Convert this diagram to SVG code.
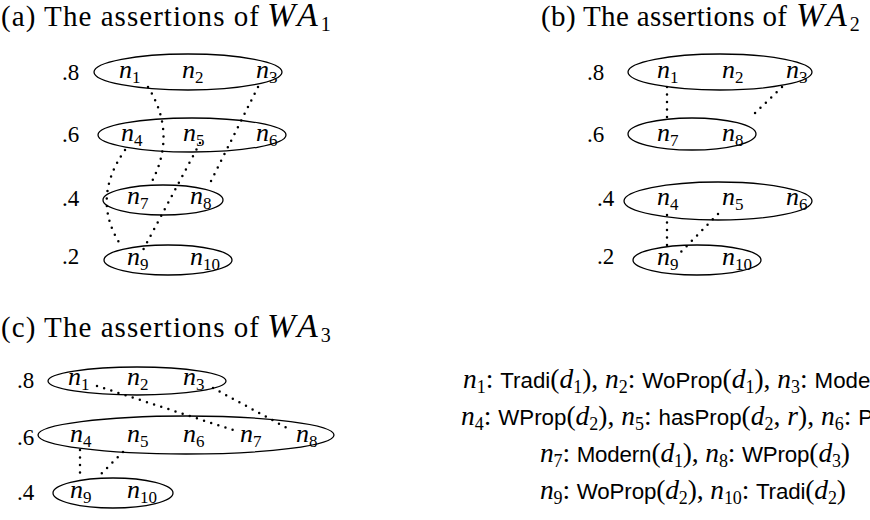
<svg xmlns="http://www.w3.org/2000/svg" width="870" height="520" viewBox="0 0 870 520">
<style>
.ttl{font-family:"Liberation Serif",serif;font-size:29px;fill:#000}
.wa{font-family:"Liberation Serif",serif;font-size:34px;font-style:italic}
.tsub{font-family:"Liberation Serif",serif;font-size:20px;font-style:normal}
.lbl{font-family:"Liberation Serif",serif;font-size:26px;font-style:italic;fill:#000}
.lv{font-family:"Liberation Serif",serif;font-size:23px;fill:#000}
.s{font-size:17px;font-style:normal}
.el{fill:none;stroke:#000;stroke-width:1.3}
.dot{fill:none;stroke:#000;stroke-width:2.5;stroke-dasharray:0 7.5;stroke-linecap:round}
.tx{font-family:"Liberation Serif",serif;font-size:27.5px;fill:#000}
.i{font-style:italic}
.ts{font-size:18px}
.sf{font-family:"Liberation Sans",sans-serif;font-size:22.3px}
</style>

<!-- Titles -->
<g id="title-a"><text class="ttl" x="1" y="26" textLength="258" lengthAdjust="spacing">(a) The assertions of</text><text class="wa" x="267" y="26">W<tspan dx="4">A</tspan><tspan class="tsub" dx="3" dy="5">1</tspan></text></g>
<g id="title-b"><text class="ttl" x="541" y="26" textLength="246" lengthAdjust="spacing">(b) The assertions of</text><text class="wa" x="796" y="26">W<tspan dx="4">A</tspan><tspan class="tsub" dx="3" dy="5">2</tspan></text></g>
<g id="title-c"><text class="ttl" x="1" y="337" textLength="258" lengthAdjust="spacing">(c) The assertions of</text><text class="wa" x="267" y="337">W<tspan dx="4">A</tspan><tspan class="tsub" dx="3" dy="5">3</tspan></text></g>

<!-- Panel (a) -->
<g id="a-l8"><text class="lv" x="62" y="80">.8</text><ellipse class="el" cx="188" cy="72" rx="94" ry="18"/>
<g id="a-n1"><text class="lbl" x="119" y="78">n<tspan class="s" dy="5">1</tspan></text></g>
<g id="a-n2"><text class="lbl" x="182" y="78">n<tspan class="s" dy="5">2</tspan></text></g>
<g id="a-n3"><text class="lbl" x="256" y="78">n<tspan class="s" dy="5">3</tspan></text></g></g>
<g id="a-l6"><text class="lv" x="62" y="142">.6</text><ellipse class="el" cx="192" cy="135" rx="94" ry="17"/>
<g id="a-n4"><text class="lbl" x="121" y="141">n<tspan class="s" dy="5">4</tspan></text></g>
<g id="a-n5"><text class="lbl" x="183" y="141">n<tspan class="s" dy="5">5</tspan></text></g>
<g id="a-n6"><text class="lbl" x="256" y="141">n<tspan class="s" dy="5">6</tspan></text></g></g>
<g id="a-l4"><text class="lv" x="62" y="206">.4</text><ellipse class="el" cx="163" cy="200" rx="60" ry="15"/>
<g id="a-n7"><text class="lbl" x="127" y="204">n<tspan class="s" dy="5">7</tspan></text></g>
<g id="a-n8"><text class="lbl" x="190" y="204">n<tspan class="s" dy="5">8</tspan></text></g></g>
<g id="a-l2"><text class="lv" x="62" y="264">.2</text><ellipse class="el" cx="168" cy="260" rx="64" ry="15"/>
<g id="a-n9"><text class="lbl" x="127" y="265">n<tspan class="s" dy="5">9</tspan></text></g>
<g id="a-n10"><text class="lbl" x="190" y="265">n<tspan class="s" dy="5">10</tspan></text></g></g>

<!-- Panel (b) -->
<g id="b-l8"><text class="lv" x="587" y="80">.8</text><ellipse class="el" cx="720" cy="72" rx="92" ry="18"/>
<g id="b-n1"><text class="lbl" x="657" y="78">n<tspan class="s" dy="5">1</tspan></text></g>
<g id="b-n2"><text class="lbl" x="722" y="78">n<tspan class="s" dy="5">2</tspan></text></g>
<g id="b-n3"><text class="lbl" x="786" y="78">n<tspan class="s" dy="5">3</tspan></text></g></g>
<g id="b-l6"><text class="lv" x="587" y="142">.6</text><ellipse class="el" cx="692" cy="134" rx="64" ry="16"/>
<g id="b-n7"><text class="lbl" x="657" y="141">n<tspan class="s" dy="5">7</tspan></text></g>
<g id="b-n8"><text class="lbl" x="722" y="141">n<tspan class="s" dy="5">8</tspan></text></g></g>
<g id="b-l4"><text class="lv" x="597" y="206">.4</text><ellipse class="el" cx="718" cy="201" rx="94" ry="19"/>
<g id="b-n4"><text class="lbl" x="657" y="205">n<tspan class="s" dy="5">4</tspan></text></g>
<g id="b-n5"><text class="lbl" x="722" y="205">n<tspan class="s" dy="5">5</tspan></text></g>
<g id="b-n6"><text class="lbl" x="786" y="205">n<tspan class="s" dy="5">6</tspan></text></g></g>
<g id="b-l2"><text class="lv" x="597" y="264">.2</text><ellipse class="el" cx="697" cy="260" rx="64" ry="15"/>
<g id="b-n9"><text class="lbl" x="657" y="265">n<tspan class="s" dy="5">9</tspan></text></g>
<g id="b-n10"><text class="lbl" x="722" y="265">n<tspan class="s" dy="5">10</tspan></text></g></g>

<!-- Panel (c) -->
<g id="c-l8"><text class="lv" x="17" y="388">.8</text><ellipse class="el" cx="137" cy="381" rx="89" ry="14"/>
<g id="c-n1"><text class="lbl" x="68" y="385">n<tspan class="s" dy="5">1</tspan></text></g>
<g id="c-n2"><text class="lbl" x="127" y="385">n<tspan class="s" dy="5">2</tspan></text></g>
<g id="c-n3"><text class="lbl" x="183" y="385">n<tspan class="s" dy="5">3</tspan></text></g></g>
<g id="c-l6"><text class="lv" x="17" y="445">.6</text><ellipse class="el" cx="186" cy="435" rx="148" ry="19"/>
<g id="c-n4"><text class="lbl" x="70" y="442">n<tspan class="s" dy="5">4</tspan></text></g>
<g id="c-n5"><text class="lbl" x="127" y="442">n<tspan class="s" dy="5">5</tspan></text></g>
<g id="c-n6"><text class="lbl" x="183" y="442">n<tspan class="s" dy="5">6</tspan></text></g>
<g id="c-n7"><text class="lbl" x="240" y="442">n<tspan class="s" dy="5">7</tspan></text></g>
<g id="c-n8"><text class="lbl" x="296" y="442">n<tspan class="s" dy="5">8</tspan></text></g></g>
<g id="c-l4"><text class="lv" x="17" y="500">.4</text><ellipse class="el" cx="113" cy="493" rx="60" ry="15"/>
<g id="c-n9"><text class="lbl" x="70" y="498">n<tspan class="s" dy="5">9</tspan></text></g>
<g id="c-n10"><text class="lbl" x="127" y="498">n<tspan class="s" dy="5">10</tspan></text></g></g>

<!-- Connectors -->
<g id="connectors">
<path class="dot" d="M148,87 Q178,135 150,185"/>
<path class="dot" d="M258,87 L208,187"/>
<path class="dot" d="M125,150 Q90,200 122,247"/>
<path class="dot" d="M200,143 L143,250"/>
<path class="dot" d="M667,87 L667,120"/>
<path class="dot" d="M782,87 L750,118"/>
<path class="dot" d="M667,215 L667,248"/>
<path class="dot" d="M718,214 L681,252"/>
<path class="dot" d="M97,386 L233,430"/>
<path class="dot" d="M213,388 L287,428"/>
<path class="dot" d="M80,450 L80,478"/>
<path class="dot" d="M123,452 L97,478"/>
</g>

<!-- Legend -->
<g id="legend">
<text class="tx" x="463" y="388"><tspan class="i">n</tspan><tspan class="ts" dy="5">1</tspan><tspan dy="-5">:  </tspan><tspan class="sf">Tradi</tspan>(<tspan class="i">d</tspan><tspan class="ts" dy="5">1</tspan><tspan dy="-5">), </tspan><tspan class="i">n</tspan><tspan class="ts" dy="5">2</tspan><tspan dy="-5">:  </tspan><tspan class="sf">WoProp</tspan>(<tspan class="i">d</tspan><tspan class="ts" dy="5">1</tspan><tspan dy="-5">), </tspan><tspan class="i">n</tspan><tspan class="ts" dy="5">3</tspan><tspan dy="-5">:  </tspan><tspan class="sf">Mode</tspan></text>
<text class="tx" x="461" y="425"><tspan class="i">n</tspan><tspan class="ts" dy="5">4</tspan><tspan dy="-5">:  </tspan><tspan class="sf">WProp</tspan>(<tspan class="i">d</tspan><tspan class="ts" dy="5">2</tspan><tspan dy="-5">), </tspan><tspan class="i">n</tspan><tspan class="ts" dy="5">5</tspan><tspan dy="-5">:  </tspan><tspan class="sf">hasProp</tspan>(<tspan class="i">d</tspan><tspan class="ts" dy="5">2</tspan><tspan dy="-5">, </tspan><tspan class="i">r</tspan>), <tspan class="i">n</tspan><tspan class="ts" dy="5">6</tspan><tspan dy="-5">:  </tspan><tspan class="sf">P</tspan></text>
<text class="tx" x="540" y="462" textLength="310" lengthAdjust="spacing"><tspan class="i">n</tspan><tspan class="ts" dy="5">7</tspan><tspan dy="-5">:  </tspan><tspan class="sf">Modern</tspan>(<tspan class="i">d</tspan><tspan class="ts" dy="5">1</tspan><tspan dy="-5">), </tspan><tspan class="i">n</tspan><tspan class="ts" dy="5">8</tspan><tspan dy="-5">:  </tspan><tspan class="sf">WProp</tspan>(<tspan class="i">d</tspan><tspan class="ts" dy="5">3</tspan><tspan dy="-5">)</tspan></text>
<text class="tx" x="540" y="499" textLength="306" lengthAdjust="spacing"><tspan class="i">n</tspan><tspan class="ts" dy="5">9</tspan><tspan dy="-5">:  </tspan><tspan class="sf">WoProp</tspan>(<tspan class="i">d</tspan><tspan class="ts" dy="5">2</tspan><tspan dy="-5">), </tspan><tspan class="i">n</tspan><tspan class="ts" dy="5">10</tspan><tspan dy="-5">:  </tspan><tspan class="sf">Tradi</tspan>(<tspan class="i">d</tspan><tspan class="ts" dy="5">2</tspan><tspan dy="-5">)</tspan></text>
</g>
</svg>
